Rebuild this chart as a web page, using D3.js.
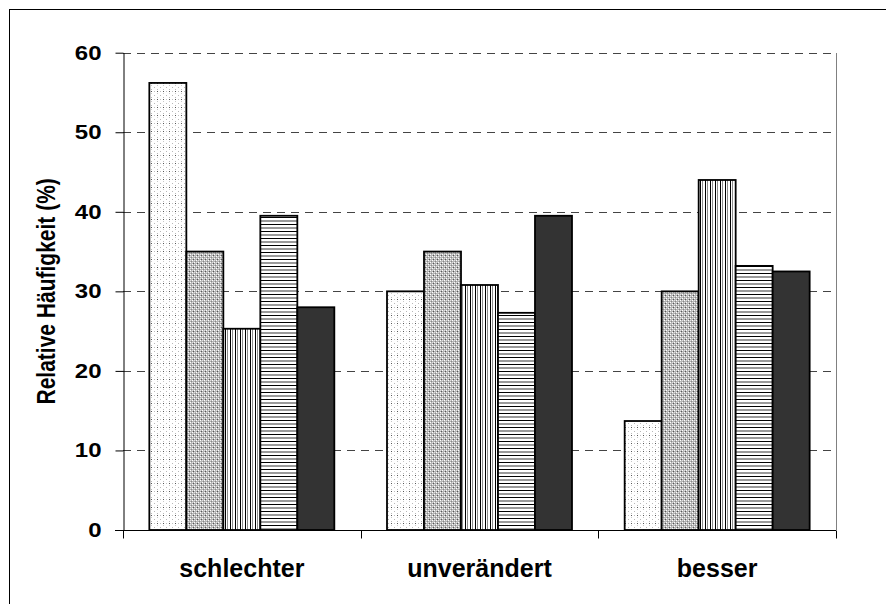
<!DOCTYPE html>
<html>
<head>
<meta charset="utf-8">
<script src="https://cdn.jsdelivr.net/npm/d3@7"></script>
<style>
  body { margin: 0; background: #fff; }
  text { font-family: "Liberation Sans", Arial, sans-serif; font-weight: bold; fill: #000; }
</style>
</head>
<body>
<script>
// data
var categories = ["schlechter", "unverändert", "besser"];
var seriesNames = ["s1", "s2", "s3", "s4", "s5"];
var s1 = [56.2, 30.0, 13.7];
var s2 = [35.0, 35.0, 30.0];
var s3 = [25.3, 30.8, 44.0];
var s4 = [39.5, 27.3, 33.2];
var s5 = [28.0, 39.5, 32.5];
var yTicks = [0, 10, 20, 30, 40, 50, 60];
var yTitle = "Relative Häufigkeit (%)";

var series = [s1, s2, s3, s4, s5];
var rows = [];
categories.forEach(function (c, i) {
  seriesNames.forEach(function (s, j) {
    rows.push({ cat: c, ser: s, value: series[j][i] });
  });
});

var width = 886, height = 604;
var plotLeft = 123, plotRight = 836, plotTop = 52.7, plotBottom = 530;

var svg = d3.select("body").append("svg")
  .attr("width", width)
  .attr("height", height);

// fill patterns
var defs = svg.append("defs");

var p1 = defs.append("pattern").attr("id", "pat1")
  .attr("patternUnits", "userSpaceOnUse").attr("width", 6).attr("height", 8);
p1.append("rect").attr("width", 6).attr("height", 8).attr("fill", "#fff");
[[1, 1, "#b8b8b8"], [1, 5, "#c8c8c8"], [4, 3, "#c0c0c0"], [4, 7, "#b8b8b8"], [1, 3, "#555"]]
  .forEach(function (d) {
    p1.append("rect").attr("x", d[0]).attr("y", d[1]).attr("width", 1).attr("height", 1).attr("fill", d[2]);
  });

var p2 = defs.append("pattern").attr("id", "pat2")
  .attr("patternUnits", "userSpaceOnUse").attr("width", 4).attr("height", 4);
p2.append("rect").attr("width", 4).attr("height", 4).attr("fill", "#b4b4b4");
[[0, 0, "#fff"], [2, 2, "#fff"], [2, 0, "#e0e0e0"], [0, 2, "#e0e0e0"], [1, 3, "#555"], [3, 1, "#888"]]
  .forEach(function (d) {
    p2.append("rect").attr("x", d[0]).attr("y", d[1]).attr("width", 1).attr("height", 1).attr("fill", d[2]);
  });

var p3 = defs.append("pattern").attr("id", "pat3")
  .attr("patternUnits", "userSpaceOnUse").attr("width", 5).attr("height", 4);
p3.append("rect").attr("width", 5).attr("height", 4).attr("fill", "#fff");
p3.append("rect").attr("x", 0).attr("width", 1).attr("height", 4).attr("fill", "#000");
p3.append("rect").attr("x", 2).attr("width", 1).attr("height", 4).attr("fill", "#8c8c8c");

var p4 = defs.append("pattern").attr("id", "pat4")
  .attr("patternUnits", "userSpaceOnUse").attr("width", 4).attr("height", 7);
p4.append("rect").attr("width", 4).attr("height", 7).attr("fill", "#fff");
p4.append("rect").attr("y", 0).attr("width", 4).attr("height", 1).attr("fill", "#000");
p4.append("rect").attr("y", 3).attr("width", 4).attr("height", 2).attr("fill", "#9a9a9a");

var fills = {
  s1: "url(#pat1)", s2: "url(#pat2)", s3: "url(#pat3)", s4: "url(#pat4)", s5: "#333333"
};

// outer frame
svg.append("rect")
  .attr("x", 9.5).attr("y", 9.5)
  .attr("width", 890).attr("height", 610)
  .attr("fill", "none").attr("stroke", "#000");

var x0 = d3.scaleBand().domain(categories).range([plotLeft, plotRight]).padding(0);
var x1 = d3.scaleBand().domain(seriesNames).range([0, x0.bandwidth()])
  .paddingInner(0).paddingOuter(0.712);
var y = d3.scaleLinear().domain([0, 60]).range([plotBottom, plotTop]);

// gridlines
svg.append("g")
  .selectAll("line")
  .data(yTicks.filter(function (d) { return d > 0; }))
  .enter()
  .append("line")
  .attr("x1", plotLeft).attr("x2", plotRight)
  .attr("y1", function (d) { return Math.round(y(d)) + 0.5; })
  .attr("y2", function (d) { return Math.round(y(d)) + 0.5; })
  .attr("stroke", "#444")
  .attr("stroke-dasharray", "8,6");

// right border of plot area
svg.append("line")
  .attr("x1", plotRight + 0.5).attr("x2", plotRight + 0.5)
  .attr("y1", Math.round(y(60))).attr("y2", plotBottom)
  .attr("stroke", "#808080");

// bars
svg.append("g")
  .selectAll("rect")
  .data(rows)
  .enter()
  .append("rect")
  .attr("x", function (d) { return x0(d.cat) + x1(d.ser); })
  .attr("y", function (d) { return y(d.value); })
  .attr("width", x1.bandwidth())
  .attr("height", function (d) { return plotBottom - y(d.value); })
  .attr("fill", function (d) { return fills[d.ser]; })
  .attr("stroke", "#000")
  .attr("stroke-width", 1.8);

// y axis
var yAxis = svg.append("g")
  .attr("transform", "translate(" + (plotLeft + 0.5) + ",0)")
  .call(d3.axisLeft(y).tickValues(yTicks).tickSize(8).tickPadding(20).tickSizeOuter(0));
yAxis.select(".domain").attr("stroke", "#000");
yAxis.selectAll(".tick line").attr("stroke", "#000");
yAxis.selectAll(".tick text")
  .attr("font-size", 20)
  .attr("font-family", "Liberation Sans, Arial, sans-serif")
  .attr("font-weight", "bold")
  .attr("x", -22 / 1.2)
  .attr("transform", "scale(1.2,1)");

// x axis
var xAxis = svg.append("g")
  .attr("transform", "translate(0," + (plotBottom + 0.5) + ")");
xAxis.append("line")
  .attr("x1", plotLeft - 8).attr("x2", plotRight)
  .attr("stroke", "#000");
xAxis.selectAll(".cat-tick")
  .data(d3.range(categories.length + 1))
  .enter()
  .append("line")
  .attr("class", "cat-tick")
  .attr("x1", function (i) { return Math.round(plotLeft + i * x0.step()) + 0.5; })
  .attr("x2", function (i) { return Math.round(plotLeft + i * x0.step()) + 0.5; })
  .attr("y1", 0).attr("y2", 8)
  .attr("stroke", "#000");
xAxis.selectAll(".cat-label")
  .data(categories)
  .enter()
  .append("text")
  .attr("class", "cat-label")
  .attr("x", function (d) { return x0(d) + x0.bandwidth() / 2; })
  .attr("y", 46)
  .attr("text-anchor", "middle")
  .attr("font-size", 25)
  .text(function (d) { return d; });

// y title (slightly wide, like the source)
svg.append("text")
  .attr("transform", "translate(55," + ((plotTop + plotBottom) / 2) + ") scale(1.2,1) rotate(-90)")
  .attr("text-anchor", "middle")
  .attr("font-size", 21)
  .text(yTitle);
</script>
</body>
</html>
